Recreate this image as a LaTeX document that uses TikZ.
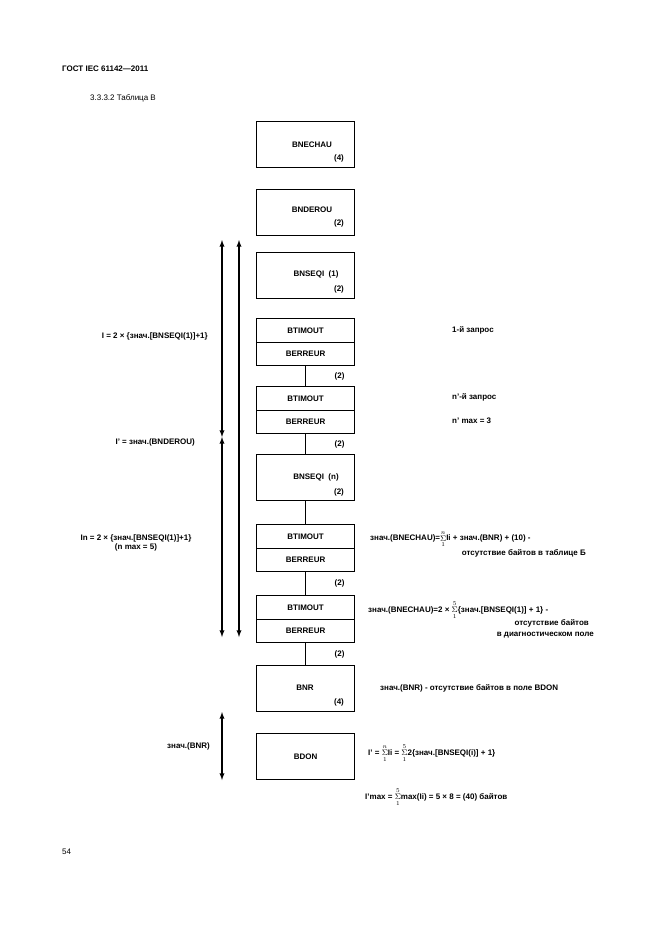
\documentclass[tikz,border=0pt]{standalone}
\usepackage{amsmath}
\usepackage{fontspec}
\setmainfont{Liberation Sans}
\usepackage{tikz}
\newcommand{\sm}[2]{\ensuremath{\mathop{\Sigma}\limits_{#1}^{#2}}}
\begin{document}
\begin{tikzpicture}[x=1pt,y=-1pt,font=\fontsize{8}{9.5}\selectfont\bfseries,
  blk/.style={draw,line width=1.2pt,minimum width=98pt,anchor=north west,inner sep=0pt},
  tall/.style={blk,minimum height=46pt},
  half/.style={blk,minimum height=23.5pt},
  lbl/.style={inner sep=0pt}]
		\useasboundingbox (0,0) rectangle (661,935);
		\node[lbl,anchor=west] at (62,69) {ГОСТ IEC 61142—2011};
		\node[lbl,anchor=west,font=\fontsize{8}{9.5}\selectfont] at (90,98) {3.3.3.2 Таблица B};
		\node[tall] (bnechau) at (256,121) {};
		\node[lbl] at (312,145) {BNECHAU}; \node[lbl] at (339,158) {(4)};
		\node[tall] (bnderou) at (256,189) {};
		\node[lbl] at (312,210) {BNDEROU}; \node[lbl] at (339,223) {(2)};
		\node[tall] (seq1) at (256,252) {};
		\node[lbl] at (316,274) {BNSEQI\ \ (1)}; \node[lbl] at (339,289) {(2)};
		\node[half] (tim1) at (256,318) {BTIMOUT};
		\node[half] (err1) at (256,341.5) {BERREUR};
		\node[half] (tim2) at (256,386) {BTIMOUT};
		\node[half] (err2) at (256,409.5) {BERREUR};
		\node[tall] (seqn) at (256,454) {};
		\node[lbl] at (316,477) {BNSEQI\ \ (n)}; \node[lbl] at (339,492) {(2)};
		\node[half] (tim3) at (256,524) {BTIMOUT};
		\node[half] (err3) at (256,547.5) {BERREUR};
		\node[half] (tim4) at (256,595) {BTIMOUT};
		\node[half] (err4) at (256,618.5) {BERREUR};
		\node[tall] (bnr) at (256,665) {};
		\node[lbl] at (305,688) {BNR}; \node[lbl] at (339,702) {(4)};
		\node[tall] (bdon) at (256,733) {BDON};
		% liaisons
		\draw[line width=1.2pt] (err1.south) -- (tim2.north) node[lbl,midway,xshift=34pt] {(2)};
		\draw[line width=1.2pt] (err2.south) -- (seqn.north) node[lbl,midway,xshift=34pt] {(2)};
		\draw[line width=1.2pt] (seqn.south) -- (tim3.north);
		\draw[line width=1.2pt] (err3.south) -- (tim4.north) node[lbl,midway,xshift=34pt] {(2)};
		\draw[line width=1.2pt] (err4.south) -- (bnr.north) node[lbl,midway,xshift=34pt] {(2)};
		% fleches
		\coordinate (a1) at (222,240); \coordinate (a2) at (222,437);
		\coordinate (a3) at (222,637); \coordinate (b1) at (239,240);
		\coordinate (b2) at (239,637); \coordinate (c1) at (222,712);
		\coordinate (c2) at (222,780);
		\draw[<->,>=latex,line width=1.3pt] (a1) -- (a2);
		\draw[<->,>=latex,line width=1.3pt] (a2) -- (a3);
		\draw[<->,>=latex,line width=1.3pt] (b1) -- (b2);
		\draw[<->,>=latex,line width=1.3pt] (c1) -- (c2);
		% textes gauche
		\node[lbl,anchor=east] at (208,336) {I = 2 × \{знач.[BNSEQI(1)]+1\}};
		\node[lbl,anchor=east] at (195,442) {I' = знач.(BNDEROU)};
		\node[lbl,align=center] at (136,543) {In = 2 × \{знач.[BNSEQI(1)]+1\}\\(n max = 5)};
		\node[lbl,anchor=east] at (210,746) {знач.(BNR)};
		% textes droite
		\node[lbl,anchor=west] at (452,330) {1-й запрос};
		\node[lbl,anchor=west] at (452,397) {n'-й запрос};
		\node[lbl,anchor=west] at (452,421) {n' max = 3};
		\node[lbl,anchor=west] at (370,539) {знач.(BNECHAU)=\sm{1}{n}Ii + знач.(BNR) + (10) -};
		\node[lbl,anchor=east] at (586,553) {отсутствие байтов в таблице Б};
		\node[lbl,anchor=west] at (368,610) {знач.(BNECHAU)=2 × \sm{1}{5}\{знач.[BNSEQI(1)] + 1\} -};
		\node[lbl,anchor=east] at (589,623) {отсутствие байтов};
		\node[lbl,anchor=east] at (594,635) {в диагностическом поле};
		\node[lbl,anchor=west] at (380,688) {знач.(BNR) - отсутствие байтов в поле BDON};
		\node[lbl,anchor=west] at (368,753) {I' = \sm{1}{n}Ii = \sm{1}{5}2\{знач.[BNSEQI(i)] + 1\}};
		\node[lbl,anchor=west] at (365,797) {I'max = \sm{1}{5}max(Ii) = 5 × 8 = (40) байтов};
		\node[lbl,anchor=west,font=\fontsize{8}{9.5}\selectfont] at (62,852) {54};
\end{tikzpicture}
\end{document}
